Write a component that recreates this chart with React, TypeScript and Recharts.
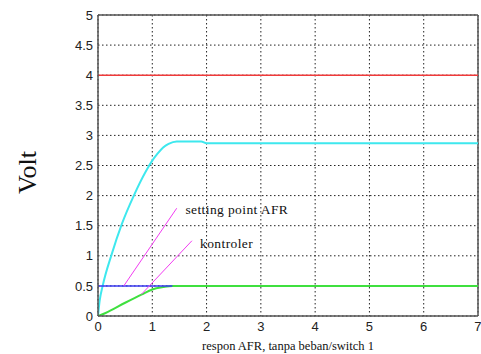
import { CartesianGrid, Line, LineChart, ReferenceDot, ReferenceLine, XAxis, YAxis } from "recharts";

const xTicks = [0, 1, 2, 3, 4, 5, 6, 7];
const yTicks = [0, 0.5, 1, 1.5, 2, 2.5, 3, 3.5, 4, 4.5, 5];

const redSeries = [
  { t: 0, v: 4 },
  { t: 7, v: 4 },
];

const cyanSeries = [
  { t: 0, v: 0 },
  { t: 0.03, v: 0.25 },
  { t: 0.086, v: 0.5 },
  { t: 0.25, v: 1.02 },
  { t: 0.44, v: 1.53 },
  { t: 0.66, v: 2.0 },
  { t: 0.88, v: 2.4 },
  { t: 1, v: 2.58 },
  { t: 1.1, v: 2.7 },
  { t: 1.2, v: 2.8 },
  { t: 1.3, v: 2.86 },
  { t: 1.45, v: 2.9 },
  { t: 1.9, v: 2.9 },
  { t: 2, v: 2.87 },
  { t: 7, v: 2.87 },
];

const blueSeries = [
  { t: 0, v: 0.5 },
  { t: 1.37, v: 0.5 },
];

const greenSeries = [
  { t: 0, v: 0 },
  { t: 0.14, v: 0.05 },
  { t: 0.5, v: 0.22 },
  { t: 0.81, v: 0.36 },
  { t: 1, v: 0.44 },
  { t: 1.2, v: 0.48 },
  { t: 1.37, v: 0.5 },
  { t: 7, v: 0.5 },
];

const setpointSeries = [
  { t: 0.475, v: 0.5 },
  { t: 1.45, v: 1.79 },
];

const controllerSeries = [
  { t: 0.8, v: 0.36 },
  { t: 1.73, v: 1.25 },
];

const annotations = [
  { t: 1.61, v: 1.77, text: "setting point AFR" },
  { t: 1.88, v: 1.21, text: "kontroler" },
];

const serif = '"Liberation Serif", "Times New Roman", serif';
const sans = '"Liberation Sans", Arial, sans-serif';

export default function App() {
  return (
    <div style={{ position: "absolute", left: 0, top: 0, background: "#fff" }}>
      <LineChart width={481} height={354} margin={{ top: 15, right: 3, left: 0, bottom: 0 }}>
        <CartesianGrid stroke="#222" strokeDasharray="1.5 2.5" horizontalValues={yTicks} verticalValues={xTicks} />
        <XAxis
          dataKey="t"
          type="number"
          domain={[0, 7]}
          ticks={xTicks}
          allowDataOverflow
          height={38}
          tickLine={false}
          tickSize={6}
          tickMargin={0}
          stroke="#555"
          strokeWidth={1.5}
          tick={{ fill: "#222", fontSize: 13, fontFamily: sans }}
          label={{ value: "respon AFR, tanpa beban/switch 1", position: "insideBottom", offset: 4, fill: "#111", fontSize: 12.5, fontFamily: serif }}
        />
        <YAxis
          type="number"
          domain={[0, 5]}
          ticks={yTicks}
          allowDataOverflow
          width={98}
          tickLine={false}
          tickSize={5}
          tickMargin={0}
          stroke="#555"
          strokeWidth={1.5}
          tick={{ fill: "#222", fontSize: 13, fontFamily: sans }}
          label={{
            value: "Volt",
            content: ({ viewBox }: any) => {
              const cx = viewBox.x + 27;
              const cy = viewBox.y + viewBox.height / 2 + 7;
              return (
                <text x={cx} y={cy} transform={`rotate(-90 ${cx} ${cy})`} textAnchor="middle" dominantBaseline="central" fontSize={26} fontFamily={serif} fill="#111">
                  Volt
                </text>
              );
            },
          }}
        />
        <ReferenceLine y={5} stroke="#555" strokeWidth={1.5} />
        <ReferenceLine x={7} stroke="#555" strokeWidth={1.5} />
        <Line data={redSeries} dataKey="v" stroke="#f03a3a" strokeWidth={1.5} dot={false} isAnimationActive={false} />
        <Line data={cyanSeries} dataKey="v" type="monotone" stroke="#3ee8ee" strokeWidth={2} dot={false} isAnimationActive={false} />
        <Line data={greenSeries} dataKey="v" type="monotone" stroke="#3fe03f" strokeWidth={2} dot={false} isAnimationActive={false} />
        <Line data={blueSeries} dataKey="v" stroke="#3a3af5" strokeWidth={1.5} dot={false} isAnimationActive={false} />
        <Line data={setpointSeries} dataKey="v" stroke="#f23cf2" strokeWidth={1} dot={false} isAnimationActive={false} />
        <Line data={controllerSeries} dataKey="v" stroke="#f23cf2" strokeWidth={1} dot={false} isAnimationActive={false} />
        {annotations.map((a) => (
          <ReferenceDot
            key={a.text}
            x={a.t}
            y={a.v}
            r={0}
            stroke="none"
            label={{ value: a.text, position: "right", offset: 0, fill: "#111", fontSize: 13.5, letterSpacing: 0.4, fontFamily: serif }}
          />
        ))}
      </LineChart>
    </div>
  );
}
